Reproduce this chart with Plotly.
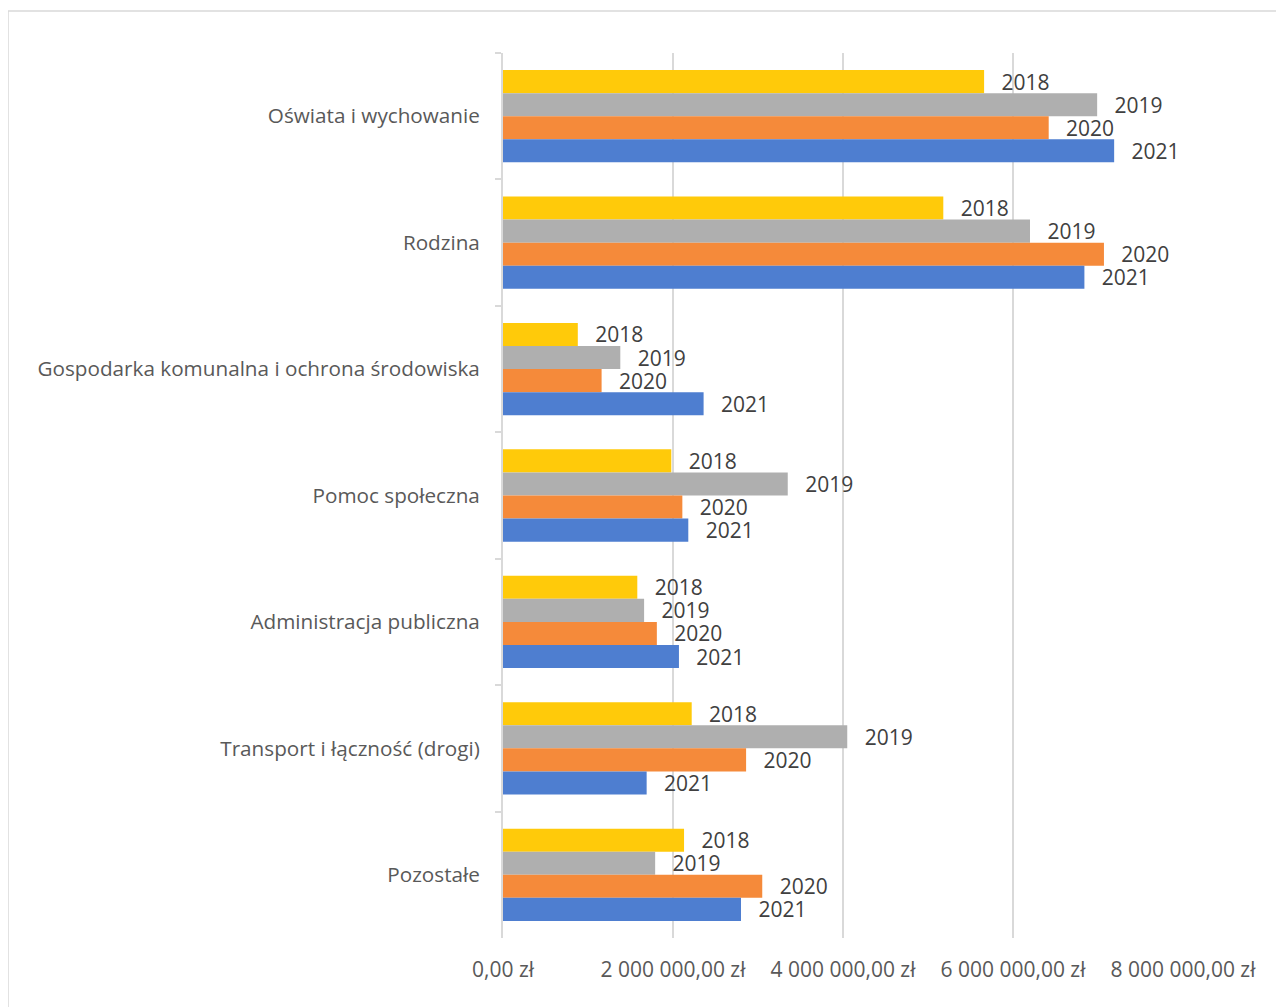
import plotly.graph_objects as go

categories = [
    "Oświata i wychowanie",
    "Rodzina",
    "Gospodarka komunalna i ochrona środowiska",
    "Pomoc społeczna",
    "Administracja publiczna",
    "Transport i łączność (drogi)",
    "Pozostałe",
]
years = ["2018", "2019", "2020", "2021"]
v2018 = [5660000, 5180000, 880000, 1980000, 1580000, 2220000, 2130000]
v2019 = [6990000, 6200000, 1380000, 3350000, 1660000, 4050000, 1790000]
v2020 = [6420000, 7070000, 1160000, 2110000, 1810000, 2860000, 3050000]
v2021 = [7190000, 6840000, 2360000, 2180000, 2070000, 1690000, 2800000]
colors = ["#FFCA0A", "#AFAFAF", "#F58A3A", "#4E7ED0"]
tick_vals = [0, 2000000, 4000000, 6000000, 8000000]
tick_text = ["0,00 zł", "2 000 000,00 zł", "4 000 000,00 zł", "6 000 000,00 zł", "8 000 000,00 zł"]

W, H = 1276, 999
L, T, PW, PH = 495, 45, 680, 885

fig = go.Figure()
for name, vals, col in zip(years, [v2018, v2019, v2020, v2021], colors):
    fig.add_trace(go.Bar(
        y=categories, x=vals, name=name, orientation="h",
        marker=dict(color=col, line=dict(width=0)),
        text=["\u00a0\u00a0\u2009" + name] * len(vals),
        textposition="outside",
        constraintext="none",
        textfont=dict(family="Open Sans", size=21, color="#404040"),
        cliponaxis=False,
    ))

fig.update_layout(
    barmode="group",
    bargap=0.27,
    bargroupgap=0,
    width=W, height=H,
    margin=dict(l=L, r=W - L - PW, t=T, b=H - T - PH),
    paper_bgcolor="white", plot_bgcolor="white",
    showlegend=False,
    font=dict(family="Open Sans", size=21, color="#595959"),
    xaxis=dict(
        range=[0, 8000000], tickvals=tick_vals, ticktext=tick_text,
        showgrid=True, gridcolor="#D9D9D9", gridwidth=2,
        zeroline=False, showline=False, ticks="",
        ticklabelstandoff=17,
        tickfont=dict(family="Open Sans", size=21, color="#595959"),
    ),
    yaxis=dict(
        autorange="reversed", showline=True, linecolor="#D9D9D9", linewidth=2,
        ticks="outside", ticklen=6, tickcolor="#D9D9D9", tickwidth=2,
        tickson="boundaries", showgrid=False,
        ticklabelstandoff=17,
        tickfont=dict(family="Open Sans", size=20.7, color="#595959"),
    ),
    shapes=[dict(
        type="rect", xref="paper", yref="paper",
        x0=(0 - L) / PW, x1=(W + 20 - L) / PW,
        y0=(T + PH - (H + 20)) / PH, y1=(T + PH - 3) / PH,
        line=dict(color="#D9D9D9", width=1.5), fillcolor="rgba(0,0,0,0)",
        layer="below",
    )],
)

fig.write_html("out.html")
